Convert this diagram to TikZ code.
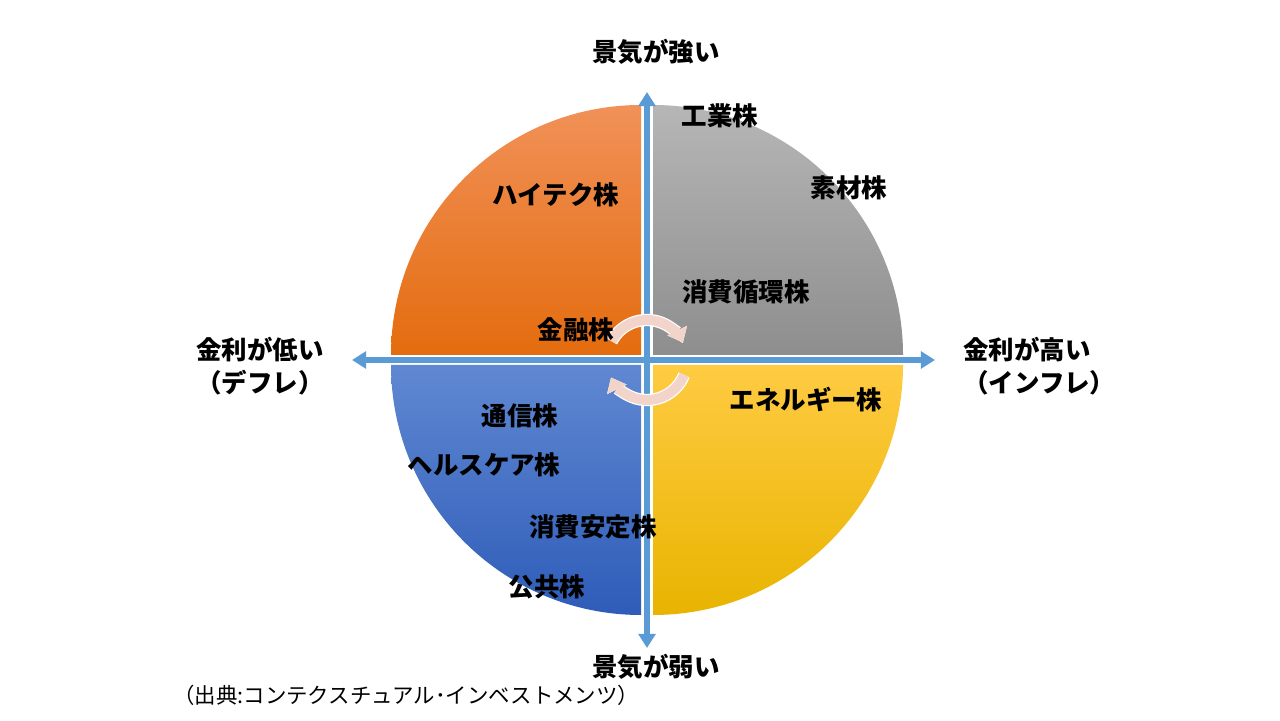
\documentclass[tikz,border=0pt]{standalone}
\usepackage{fontspec}
\setmainfont{Noto Sans CJK JP}
\usetikzlibrary{arrows.meta}
\definecolor{axisblue}{RGB}{91,155,213}
\definecolor{cyclepink}{RGB}{243,212,202}
\begin{document}
\begin{tikzpicture}[x=0.02cm,y=0.02cm,
  lbl/.style={font=\bfseries\fontsize{14.5}{19}\selectfont,inner sep=0pt},
  axis/.style={draw=axisblue,line width=3.4pt,{Triangle[width=9.5pt,length=8pt]}-{Triangle[width=9.5pt,length=8pt]}},
  cyc/.style={draw=cyclepink,line width=5.6pt,-{Triangle[width=12pt,length=7.5pt]},preaction={draw=white,line width=7pt}}]
	\useasboundingbox (0,0) rectangle (1280,720);
	\path
	(647,360) coordinate (ctr)
	(647,72) coordinate (weak)
	(647,628) coordinate (strong)
	(352,360) coordinate (low)
	(935,360) coordinate (high)
	;
	% quadrants
	\shade[top color={rgb,255:red,241;green,145;blue,88},bottom color={rgb,255:red,228;green,108;blue,14}]
		(641,365)--(391,365) arc[start angle=180,end angle=90,radius=250]--cycle;
	\shade[top color={rgb,255:red,182;green,182;blue,182},bottom color={rgb,255:red,142;green,142;blue,142}]
		(653,365)--(653,615) arc[start angle=90,end angle=0,radius=250]--cycle;
	\shade[top color={rgb,255:red,96;green,136;blue,210},bottom color={rgb,255:red,46;green,92;blue,184}]
		(641,355)--(391,355) arc[start angle=180,end angle=270,radius=250]--cycle;
	\shade[top color={rgb,255:red,255;green,203;blue,66},middle color={rgb,255:red,255;green,194;blue,10},bottom color={rgb,255:red,232;green,180;blue,0}]
		(653,355)--(653,105) arc[start angle=270,end angle=360,radius=250]--cycle;
	% axes
	\draw[axis] (weak)--(strong);
	\draw[axis] (low)--(high);
	% cycle arrows
	\draw[cyc] ([shift={(152:40)}]ctr) arc[start angle=152,end angle=26,radius=40];
	\draw[cyc] ([shift={(-22:40)}]ctr) arc[start angle=-22,end angle=-154,radius=40];
	% axis labels
	\node[lbl] (strongL) at (656,668) {景気が強い};
	\node[lbl] (weakL) at (656,53) {景気が弱い};
	\node[lbl,anchor=west,align=left] (lowL) at (196,354) {金利が低い\\（デフレ）};
	\node[lbl,anchor=west,align=left] (highL) at (963,354) {金利が高い\\（インフレ）};
	% sectors
	\node[lbl] (kogyo) at (720,604) {工業株};
	\node[lbl] (sozai) at (849,532) {素材株};
	\node[lbl] (hitech) at (556,525) {ハイテク株};
	\node[lbl] (junkan) at (746,428) {消費循環株};
	\node[lbl] (kinyu) at (576,390) {金融株};
	\node[lbl] (energy) at (806,320) {エネルギー株};
	\node[lbl] (tsushin) at (520,304) {通信株};
	\node[lbl] (health) at (484,255) {ヘルスケア株};
	\node[lbl] (antei) at (593,193) {消費安定株};
	\node[lbl] (kokyo) at (547,133) {公共株};
	\node[anchor=west,inner sep=0pt,font=\fontsize{12.2}{15}\selectfont] (source) at (173,25) {（出典:コンテクスチュアル･インベストメンツ）};
\end{tikzpicture}
\end{document}
